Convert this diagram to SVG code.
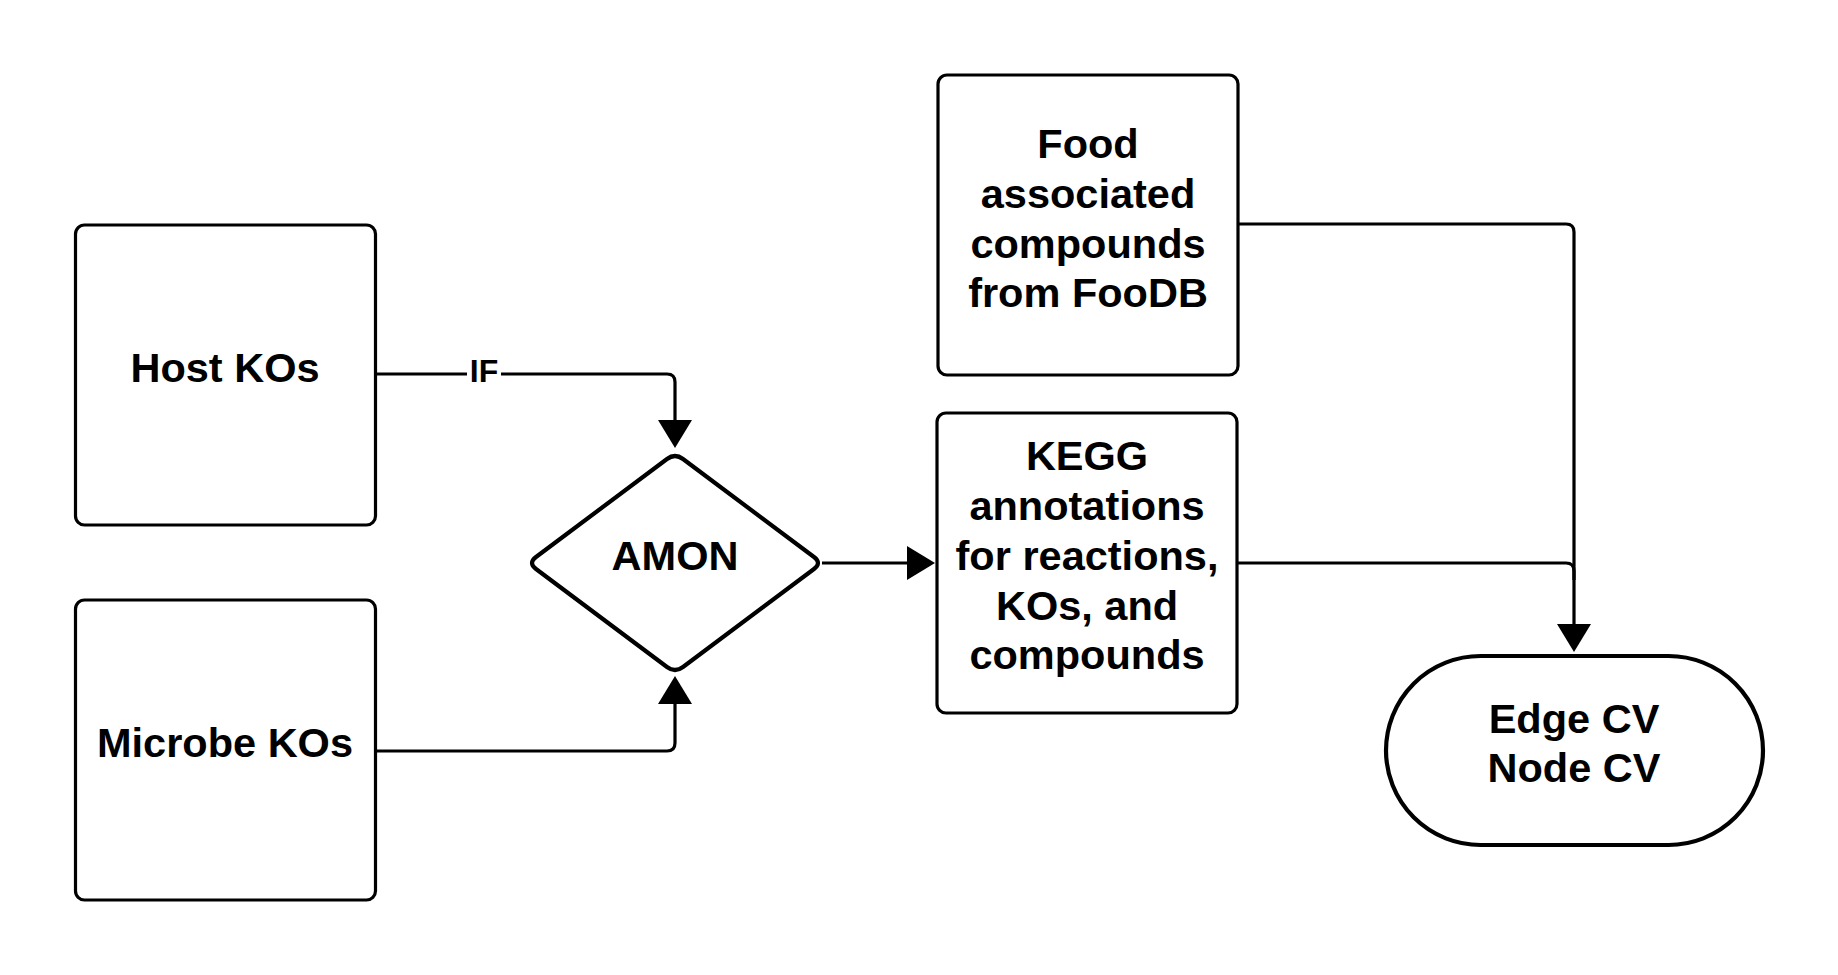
<svg xmlns="http://www.w3.org/2000/svg" width="1838" height="975" viewBox="0 0 1838 975">
  <style>
    .box { fill: #ffffff; stroke: #000000; stroke-width: 3.2; }
    .thick { fill: #ffffff; stroke: #000000; stroke-width: 4.2; stroke-linejoin: round; }
    .lbl { font-family: "Liberation Sans", Arial, sans-serif; font-weight: bold; font-size: 41.5px; fill: #000000; text-anchor: middle; }
    .edge { fill: none; stroke: #000000; stroke-width: 3.2; }
    .elbl { font-family: "Liberation Sans", Arial, sans-serif; font-weight: bold; font-size: 32px; fill: #000000; text-anchor: middle; }
  </style>
  <defs>
    <marker id="arrow" markerUnits="userSpaceOnUse" markerWidth="30" markerHeight="36" refX="1" refY="17" orient="auto" viewBox="0 0 30 36">
      <path d="M0,0 L28,17 L0,34 Z" fill="#000000"/>
    </marker>
  </defs>
  <rect width="1838" height="975" fill="#ffffff"/>

  <g id="connectors">
    <path class="edge" d="M375,374 H667 Q675,374 675,382 V421" marker-end="url(#arrow)"/>
    <rect x="467" y="358" width="34" height="28" fill="#ffffff"/>
    <text class="elbl" x="484" y="382">IF</text>
    <path class="edge" d="M375,751 H667 Q675,751 675,743 V703" marker-end="url(#arrow)"/>
    <path class="edge" d="M822,563 H908" marker-end="url(#arrow)"/>
    <path class="edge" d="M1238,224 H1566 Q1574,224 1574,232 V625" marker-end="url(#arrow)"/>
    <path class="edge" d="M1237,563 H1566 Q1574,563 1574,571 V580"/>
  </g>

  <g id="host">
    <rect class="box" x="75.5" y="225" width="300" height="300" rx="9"/>
    <text class="lbl" x="225" y="382">Host KOs</text>
  </g>

  <g id="microbe">
    <rect class="box" x="75.5" y="600" width="300" height="300" rx="9"/>
    <text class="lbl" x="225" y="757">Microbe KOs</text>
  </g>

  <g id="amon">
    <path class="thick" d="M683,459 L814,557 Q822,563 814,569 L683,667 Q675,673 667,667 L536,569 Q528,563 536,557 L667,459 Q675,453 683,459 Z"/>
    <text class="lbl" x="675" y="570">AMON</text>
  </g>

  <g id="food">
    <rect class="box" x="938" y="75" width="300" height="300" rx="9"/>
    <text class="lbl" x="1088" y="158">Food</text>
    <text class="lbl" x="1088" y="208">associated</text>
    <text class="lbl" x="1088" y="258">compounds</text>
    <text class="lbl" x="1088" y="307">from FooDB</text>
  </g>

  <g id="kegg">
    <rect class="box" x="937" y="413" width="300" height="300" rx="9"/>
    <text class="lbl" x="1087" y="470">KEGG</text>
    <text class="lbl" x="1087" y="520">annotations</text>
    <text class="lbl" x="1087" y="570">for reactions,</text>
    <text class="lbl" x="1087" y="620">KOs, and</text>
    <text class="lbl" x="1087" y="669">compounds</text>
  </g>

  <g id="cv">
    <rect class="thick" x="1386" y="656" width="377" height="189" rx="94.5"/>
    <text class="lbl" x="1574" y="733">Edge CV</text>
    <text class="lbl" x="1574" y="782">Node CV</text>
  </g>
</svg>
